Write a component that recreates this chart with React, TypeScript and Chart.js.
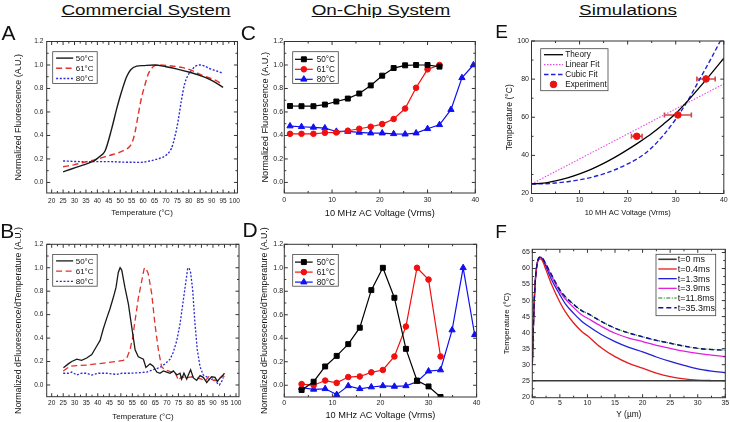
import React, { useEffect, useRef } from 'react';
import { Chart, registerables } from 'chart.js';

Chart.register(...registerables);

const FONT = '"Liberation Sans", Arial, Helvetica, sans-serif';

type Pt = [number, number];

// ---------------- tick values ----------------
const TEMP_TICKS_AB = [20, 25, 30, 35, 40, 45, 50, 55, 60, 65, 70, 75, 80, 85, 90, 95, 100];
const NORM_TICKS = [0, 0.2, 0.4, 0.6, 0.8, 1.0, 1.2];
const VOLT_TICKS = [0, 10, 20, 30, 40];
const E_TEMP_TICKS = [20, 40, 60, 80, 100];
const F_Y_TICKS = [0, 5, 10, 15, 20, 25, 30, 35];
const F_TEMP_TICKS = [20, 25, 30, 35, 40, 45, 50, 55, 60, 65];

// ---------------- labels ----------------
const MELT_LABELS = ['50°C', '61°C', '80°C'];
const E_LABELS = ['Theory', 'Linear Fit', 'Cubic Fit', 'Experiment'];
const F_LABELS = ['t=0 ms', 't=0.4ms', 't=1.3ms', 't=3.9ms', 't=11.8ms', 't=35.3ms'];

// ---------------- Panel A: melt curves (commercial) ----------------
const A_50C: Pt[] = [[25, 0.09], [28, 0.11], [31, 0.13], [34, 0.15], [37, 0.17], [39, 0.19], [41, 0.22], [43.4, 0.27], [46.3, 0.46], [48.5, 0.63], [50.7, 0.78], [52.8, 0.9], [54.6, 0.96], [57.2, 0.99], [60, 0.995], [65, 1.0], [70, 0.985], [75, 0.965], [80, 0.94], [85, 0.91], [90, 0.87], [95, 0.81]];
const A_61C: Pt[] = [[25, 0.134], [29.7, 0.15], [33.9, 0.17], [38.4, 0.19], [42.7, 0.215], [47.1, 0.24], [51.4, 0.27], [54.3, 0.31], [55.4, 0.35], [56.5, 0.43], [57.9, 0.58], [59.3, 0.72], [60.8, 0.83], [62.2, 0.92], [63.7, 0.97], [65.1, 0.994], [67.3, 1.0], [71.6, 0.994], [77.4, 0.977], [81.8, 0.95], [86.1, 0.91], [90.5, 0.88], [95, 0.834]];
const A_80C: Pt[] = [[25, 0.183], [31, 0.178], [38, 0.177], [45, 0.177], [52.8, 0.172], [58.6, 0.171], [63, 0.183], [67.3, 0.206], [70.2, 0.234], [72.4, 0.29], [73.8, 0.38], [75.3, 0.52], [76.7, 0.69], [78.2, 0.84], [79.6, 0.91], [81, 0.95], [83, 0.99], [85, 1.0], [87, 0.99], [89, 0.97], [92, 0.95], [95, 0.93]];

// ---------------- Panel B: derivative (commercial) ----------------
const B_50C: Pt[] = [[25.1, 0.147], [27.2, 0.18], [28.7, 0.2], [30.9, 0.22], [33, 0.21], [35.2, 0.23], [37.4, 0.26], [39.5, 0.33], [41, 0.38], [42.4, 0.48], [43.9, 0.57], [45.3, 0.65], [46.8, 0.75], [47.9, 0.83], [48.9, 0.96], [49.7, 1.0], [50.4, 0.98], [51.8, 0.83], [53.3, 0.69], [54.7, 0.5], [56.2, 0.3], [57.6, 0.24], [59.8, 0.22], [60.9, 0.15], [62.7, 0.18], [64.1, 0.16], [65.6, 0.11], [67, 0.1], [68.5, 0.12], [69.9, 0.11], [71.4, 0.1], [72.8, 0.12], [74.3, 0.085], [75.7, 0.1], [76.4, 0.05], [77.4, 0.1], [78.6, 0.05], [79.3, 0.085], [80.3, 0.13], [81.5, 0.06], [82.9, 0.04], [84.4, 0.08], [85.8, 0.065], [87.3, 0.02], [88, 0.04], [89.4, 0.07], [90.9, 0.065], [91.9, 0.03], [93.1, 0.06], [94.2, 0.08], [95, 0.1]];
const B_61C: Pt[] = [[25, 0.12], [27.9, 0.16], [30.9, 0.165], [35.2, 0.17], [39.5, 0.18], [43.9, 0.19], [48.2, 0.2], [51.1, 0.21], [52.6, 0.23], [54, 0.3], [55.2, 0.41], [56.2, 0.55], [57.6, 0.74], [59.1, 0.89], [60.1, 0.99], [60.8, 1.0], [61.9, 0.95], [63.4, 0.78], [64.8, 0.52], [66.3, 0.3], [67.7, 0.155], [69.2, 0.13], [70.6, 0.12], [72.1, 0.11], [73.5, 0.11], [75, 0.04], [76.4, 0.07], [78.6, 0.06], [80.8, 0.07], [82.9, 0.06], [85.1, 0.05], [86.5, 0.03], [88, 0.07], [90.2, 0.04], [92.3, 0.04], [94.2, 0.08], [95, 0.07]];
const B_80C: Pt[] = [[25, 0.1], [27.2, 0.1], [28.7, 0.11], [30.9, 0.085], [33, 0.1], [35.2, 0.1], [37.4, 0.085], [40.3, 0.1], [43.9, 0.1], [48.2, 0.09], [50.4, 0.1], [54, 0.1], [58.3, 0.105], [61.2, 0.11], [64.1, 0.13], [67, 0.15], [69.2, 0.18], [71.4, 0.22], [72.8, 0.28], [74.3, 0.38], [75.7, 0.52], [77.1, 0.72], [78.3, 0.89], [79, 0.99], [79.6, 1.0], [80.3, 0.96], [81.2, 0.81], [82.2, 0.52], [83.2, 0.3], [84.4, 0.155], [85.8, 0.085], [87.3, 0.07], [88.7, 0.04], [90.2, 0.055], [91.6, 0.02], [92.8, 0.0], [93.8, 0.03], [94.5, 0.065]];

// ---------------- Panel C: on-chip melt ----------------
const C_VOLTS = [1.2, 3.6, 6.1, 8.5, 10.9, 13.3, 15.7, 18.1, 20.5, 22.9, 25.3, 27.6, 30.0, 32.5, 34.9, 37.2, 39.6];
const C_50C = [0.651, 0.649, 0.649, 0.663, 0.689, 0.714, 0.757, 0.826, 0.909, 0.974, 0.997, 1.0, 1.0, 0.986];
const C_61C = [0.414, 0.414, 0.414, 0.423, 0.426, 0.44, 0.457, 0.474, 0.497, 0.54, 0.629, 0.806, 0.963, 1.0];
const C_80C = [0.48, 0.474, 0.469, 0.463, 0.434, 0.434, 0.426, 0.42, 0.42, 0.414, 0.411, 0.42, 0.457, 0.491, 0.62, 0.891, 1.0];

// ---------------- Panel D: on-chip derivative ----------------
const D_VOLTS = [3.6, 6.1, 8.5, 10.9, 13.3, 15.7, 18.1, 20.5, 22.9, 25.3, 27.6, 30.0, 32.5, 34.9, 37.2, 39.6];
const D_50C = [-0.04, 0.03, 0.16, 0.25, 0.35, 0.49, 0.81, 1.0, 0.745, 0.31, 0.04, -0.01, -0.1];
const D_61C = [0.01, 0.0, 0.04, 0.02, 0.07, 0.075, 0.11, 0.13, 0.245, 0.5, 1.0, 0.9, 0.245];
const D_80C = [-0.02, -0.035, -0.03, -0.08, -0.005, -0.03, -0.015, -0.005, -0.01, -0.005, 0.03, 0.12, 0.13, 0.47, 1.0, 0.43];

// ---------------- Panel E: temperature vs voltage ----------------
const E_THEORY: Pt[] = [[0, 25], [2.5, 25.4], [5, 26.6], [7.5, 28.2], [10, 30.3], [12.5, 32.8], [15, 35.8], [17.5, 39.2], [20, 43], [22.5, 47.1], [25, 51.5], [27.5, 56.5], [30, 62], [32.5, 68.6], [35, 75.8], [37.5, 83.3], [40, 91]];
const E_LINEAR: Pt[] = [[0, 25], [40, 77.5]];
const E_CUBIC: Pt[] = [[0, 25], [2.5, 25.1], [5, 25.5], [7.5, 26.2], [10, 27.2], [12.5, 28.5], [15, 30.3], [17.5, 32.6], [20, 35.5], [22.5, 39], [25, 44], [27.5, 50.8], [30, 59], [32.5, 68.7], [35, 80], [37.5, 91.5], [40, 103.5]];
const E_EXPERIMENT: Pt[] = [[21.9, 50], [30.45, 61.2], [36.3, 80.1]];
const E_EXPERIMENT_XERR = [1.1, 2.8, 1.9];

// ---------------- Panel F: temperature profiles ----------------
const F_T0: Pt[] = [[0, 25], [35, 25]];
const F_T04: Pt[] = [[0, 30], [0.25, 45], [0.5, 55], [0.75, 60], [1, 62.3], [1.4, 63], [1.8, 62.5], [2.5, 59.5], [3.5, 55], [5, 49.5], [6, 46.5], [7.5, 43], [9, 40.3], [10, 39], [12.5, 35.3], [15, 32.5], [17.5, 30.4], [20, 28.9], [22.5, 27.4], [25, 26.3], [27.5, 25.6], [30, 25.2], [32.5, 25.05], [35, 25]];
const F_T13: Pt[] = [[0, 30], [0.25, 45], [0.5, 55], [0.75, 60], [1, 62.5], [1.4, 63.5], [1.8, 63], [2.5, 60.5], [3.5, 56.5], [5, 51.8], [6, 49], [7.5, 46], [9, 43.5], [10, 42.2], [12.5, 39.4], [15, 37.2], [17.5, 35.4], [20, 34], [22.5, 32.4], [25, 31], [27.5, 29.8], [30, 28.7], [32.5, 28], [35, 27.5]];
const F_T39: Pt[] = [[0, 30], [0.25, 45], [0.5, 55], [0.75, 60], [1, 62.5], [1.4, 63.5], [1.8, 63.2], [2.5, 61], [3.5, 57.5], [5, 52.8], [6, 50.5], [7.5, 47.8], [9, 45.5], [10, 44.5], [12.5, 42], [15, 39.8], [17.5, 38.3], [20, 37.2], [22.5, 36], [25, 35.1], [27.5, 34.2], [30, 33.5], [32.5, 33], [35, 32.5]];
const F_T118: Pt[] = [[0, 30], [0.25, 45], [0.5, 55], [0.75, 60], [1, 62.5], [1.4, 63.6], [1.8, 63.3], [2.5, 61.3], [3.5, 58], [5, 53.3], [6, 51.2], [7.5, 48.8], [9, 46.8], [10, 46], [12.5, 43.5], [15, 41.4], [17.5, 39.9], [20, 38.7], [22.5, 37.6], [25, 36.7], [27.5, 35.8], [30, 35.1], [32.5, 34.8], [35, 34.6]];
const F_T353: Pt[] = [[0, 30], [0.25, 45], [0.5, 55], [0.75, 60], [1, 62.5], [1.4, 63.6], [1.8, 63.3], [2.5, 61.3], [3.5, 58], [5, 53.3], [6, 51.2], [7.5, 48.8], [9, 46.8], [10, 46], [12.5, 43.5], [15, 41.4], [17.5, 39.9], [20, 38.7], [22.5, 37.6], [25, 36.7], [27.5, 35.8], [30, 35.1], [32.5, 34.7], [35, 34.5]];

// ---------------- helpers ----------------
const xy = (pts: Pt[]) => pts.map(([x, y]) => ({ x, y }));
const zip = (xs: number[], ys: number[]) => ys.map((y, i) => ({ x: xs[i], y }));
const mids = (t: number[]) => t.slice(1).map((v, i) => (v + t[i]) / 2);

const lineDs = (label: string, data: any[], color: string, width: number, dash: number[] = [], smooth = false) => ({
  label, data, borderColor: color, backgroundColor: color, borderWidth: width, borderDash: dash,
  pointRadius: 0, pointHoverRadius: 0, fill: false, tension: 0,
  cubicInterpolationMode: smooth ? 'monotone' : 'default',
});
const markDs = (label: string, data: any[], color: string, style: string, r: number) => ({
  label, data, borderColor: color, backgroundColor: color, borderWidth: 1.2,
  pointStyle: style, pointRadius: r, pointHoverRadius: r, pointBackgroundColor: color, pointBorderColor: color, pointBorderWidth: 1,
  fill: false, tension: 0,
});

function drawMarker(ctx: CanvasRenderingContext2D, style: string, x: number, y: number, r: number, color: string) {
  ctx.save();
  ctx.setLineDash([]);
  ctx.fillStyle = color; ctx.strokeStyle = color; ctx.lineWidth = 1;
  ctx.beginPath();
  if (style === 'rect') {
    const s = r * Math.SQRT1_2;
    ctx.rect(x - s, y - s, 2 * s, 2 * s);
  } else if (style === 'triangle') {
    for (let k = 0; k < 3; k++) {
      const a = (k * 2 * Math.PI) / 3;
      const px = x + Math.sin(a) * r, py = y - Math.cos(a) * r;
      if (k === 0) ctx.moveTo(px, py); else ctx.lineTo(px, py);
    }
    ctx.closePath();
  } else {
    ctx.arc(x, y, r, 0, Math.PI * 2);
  }
  ctx.fill(); ctx.stroke();
  ctx.restore();
}

interface Axis { min: number; max: number; ticks: number[]; dec: number; title: string; tSize: number; tPad: number; lSize: number; lPad: number; }
interface Legend { x: number; y: number; w: number; h: number; row0: number; step: number; s0: number; s1: number; tx: number; size: number; labels: string[]; }
interface Panel {
  box: [number, number, number, number];
  padTop: number; padRight: number; yW: number; xH: number;
  x: Axis; y: Axis; datasets: any[]; legend: Legend;
  errors?: { ds: number; err: number[]; color: string };
}

function decor(p: Panel) {
  return {
    id: 'decor',
    beforeDatasetsDraw(chart: any) {
      if (!p.errors) return;
      const { ctx } = chart;
      const xs = chart.scales.x, ys = chart.scales.y;
      const data = chart.data.datasets[p.errors.ds].data;
      ctx.save();
      ctx.strokeStyle = p.errors.color; ctx.lineWidth = 1.6; ctx.setLineDash([]);
      data.forEach((pt: any, i: number) => {
        const e = p.errors!.err[i];
        const x0 = xs.getPixelForValue(pt.x - e), x1 = xs.getPixelForValue(pt.x + e);
        const y = ys.getPixelForValue(pt.y);
        ctx.beginPath();
        ctx.moveTo(x0, y); ctx.lineTo(x1, y);
        ctx.moveTo(x0, y - 2.5); ctx.lineTo(x0, y + 2.5);
        ctx.moveTo(x1, y - 2.5); ctx.lineTo(x1, y + 2.5);
        ctx.stroke();
      });
      ctx.restore();
    },
    afterDatasetsDraw(chart: any) {
      const { ctx, chartArea: a } = chart;
      const xs = chart.scales.x, ys = chart.scales.y;
      ctx.save();
      ctx.setLineDash([]);
      ctx.strokeStyle = '#333'; ctx.lineWidth = 1;
      ctx.strokeRect(a.left, a.top, a.right - a.left, a.bottom - a.top);
      const inX = (v: number) => v >= p.x.min - 1e-9 && v <= p.x.max + 1e-9;
      const inY = (v: number) => v >= p.y.min - 1e-9 && v <= p.y.max + 1e-9;
      const xt = (vals: number[], len: number) => vals.filter(inX).forEach((v) => {
        const px = xs.getPixelForValue(v);
        ctx.beginPath();
        ctx.moveTo(px, a.bottom); ctx.lineTo(px, a.bottom - len);
        ctx.moveTo(px, a.top); ctx.lineTo(px, a.top + len);
        ctx.stroke();
      });
      const yt = (vals: number[], len: number) => vals.filter(inY).forEach((v) => {
        const py = ys.getPixelForValue(v);
        ctx.beginPath();
        ctx.moveTo(a.left, py); ctx.lineTo(a.left + len, py);
        ctx.moveTo(a.right, py); ctx.lineTo(a.right - len, py);
        ctx.stroke();
      });
      xt(p.x.ticks, 3.5); xt(mids(p.x.ticks), 2);
      yt(p.y.ticks, 3.5); yt(mids(p.y.ticks), 2);

      // legend
      const L = p.legend;
      const bx = a.left + L.x, by = a.top + L.y;
      ctx.fillStyle = '#fff';
      ctx.fillRect(bx, by, L.w, L.h);
      ctx.strokeStyle = '#444'; ctx.lineWidth = 0.8;
      ctx.strokeRect(bx, by, L.w, L.h);
      chart.data.datasets.forEach((ds: any, i: number) => {
        const y = by + L.row0 + i * L.step;
        if (ds.showLine !== false) {
          ctx.save();
          ctx.setLineDash(ds.borderDash || []);
          ctx.strokeStyle = ds.borderColor; ctx.lineWidth = ds.borderWidth;
          ctx.beginPath(); ctx.moveTo(bx + L.s0, y); ctx.lineTo(bx + L.s1, y); ctx.stroke();
          ctx.restore();
        }
        if (ds.pointRadius > 0) drawMarker(ctx, ds.pointStyle || 'circle', bx + (L.s0 + L.s1) / 2, y, ds.pointRadius, ds.pointBackgroundColor || ds.borderColor);
        ctx.fillStyle = '#111';
        ctx.font = `${L.size}px ${FONT}`;
        ctx.textBaseline = 'middle'; ctx.textAlign = 'left';
        ctx.fillText(L.labels[i], bx + L.tx, y + 0.5);
      });
      ctx.restore();
    },
  };
}

function makeConfig(p: Panel) {
  const axis = (ax: Axis, horizontal: boolean) => ({
    type: 'linear',
    min: ax.min, max: ax.max,
    afterBuildTicks: (s: any) => { s.ticks = ax.ticks.map((v) => ({ value: v })); },
    afterFit: (s: any) => { if (horizontal) s.height = p.xH; else s.width = p.yW; },
    grid: { display: false, drawTicks: false },
    border: { display: false },
    ticks: {
      autoSkip: false, maxRotation: 0, minRotation: 0, padding: ax.lPad, color: '#222',
      font: { family: FONT, size: ax.lSize },
      callback: (v: any) => Number(v).toFixed(ax.dec),
    },
    title: {
      display: true, text: ax.title, color: '#111', font: { family: FONT, size: ax.tSize },
      padding: horizontal ? { top: 0, bottom: ax.tPad } : { top: ax.tPad, bottom: 0 },
    },
  });
  return {
    type: 'line',
    data: { datasets: p.datasets },
    options: {
      animation: false, responsive: false, maintainAspectRatio: false, events: [],
      layout: { padding: { left: 0, top: p.padTop, right: p.padRight, bottom: 0 } },
      plugins: { legend: { display: false }, tooltip: { enabled: false }, title: { display: false } },
      scales: { x: axis(p.x, true), y: axis(p.y, false) },
    },
    plugins: [decor(p)],
  };
}

const AB_RED = '#e3322b';
const AB_BLUE = '#2b2bd6';

function buildPanels(): Panel[] {
  const legAB = (labels: string[]) => ({ x: 6, y: 10.2, w: 44.5, h: 31.7, row0: 6.4, step: 10.2, s0: 3.4, s1: 20.5, tx: 23, size: 8, labels });
  const legCD = (labels: string[]) => ({ x: 8.4, y: 10.2, w: 45.6, h: 31.7, row0: 7.6, step: 10, s0: 2.3, s1: 20, tx: 24, size: 8.2, labels });
  const tempAxisAB = (title: string, tPad: number, lPad: number): Axis => ({ min: 17.83, max: 101.3, ticks: TEMP_TICKS_AB, dec: 0, title, tSize: 8, tPad, lSize: 6.5, lPad });
  return [
    // A
    {
      box: [0, 30, 244, 190], padTop: 11.5, padRight: 5, yW: 46.7, xH: 27,
      x: tempAxisAB('Temperature (°C)', 2.7, 4),
      y: { min: -0.09, max: 1.2, ticks: NORM_TICKS, dec: 1, title: 'Normalized Fluorescence (A.U.)', tSize: 8.9, tPad: 13, lSize: 6.5, lPad: 3.4 },
      datasets: [
        lineDs(MELT_LABELS[0], xy(A_50C), '#1a1a1a', 1.4, [], true),
        lineDs(MELT_LABELS[1], xy(A_61C), AB_RED, 1.4, [6, 3.5], true),
        lineDs(MELT_LABELS[2], xy(A_80C), AB_BLUE, 1.4, [2, 1.7], true),
      ],
      legend: legAB(MELT_LABELS),
    },
    // B
    {
      box: [0, 222, 244, 200], padTop: 22.3, padRight: 5, yW: 46.7, xH: 25.3,
      x: tempAxisAB('Temperature (°C)', 0.5, 2.2),
      y: { min: -0.1, max: 1.2, ticks: NORM_TICKS, dec: 1, title: 'Normalized dFluorescence/dTemperature (A.U.)', tSize: 8.8, tPad: 13, lSize: 6.5, lPad: 3.4 },
      datasets: [
        lineDs(MELT_LABELS[0], xy(B_50C), '#1a1a1a', 1.3),
        lineDs(MELT_LABELS[1], xy(B_61C), AB_RED, 1.3, [6, 3.5]),
        lineDs(MELT_LABELS[2], xy(B_80C), AB_BLUE, 1.3, [2, 1.7]),
      ],
      legend: legAB(MELT_LABELS),
    },
    // C
    {
      box: [244, 30, 238, 190], padTop: 11.5, padRight: 4.7, yW: 40.3, xH: 27,
      x: { min: 0, max: 40, ticks: VOLT_TICKS, dec: 0, title: '10 MHz AC Voltage (Vrms)', tSize: 9.2, tPad: 1.1, lSize: 7, lPad: 2.8 },
      y: { min: -0.09, max: 1.2, ticks: NORM_TICKS, dec: 1, title: 'Normalized Fluorescence (A.U.)', tSize: 9.2, tPad: 15.5, lSize: 7, lPad: 1.2 },
      datasets: [
        markDs(MELT_LABELS[0], zip(C_VOLTS, C_50C), '#000000', 'rect', 3.5),
        markDs(MELT_LABELS[1], zip(C_VOLTS, C_61C), '#f01010', 'circle', 2.8),
        markDs(MELT_LABELS[2], zip(C_VOLTS, C_80C), '#1010f0', 'triangle', 3.6),
      ],
      legend: legCD(MELT_LABELS),
    },
    // D
    {
      box: [244, 222, 238, 200], padTop: 22.3, padRight: 4.7, yW: 40.3, xH: 25,
      x: { min: 0, max: 40, ticks: VOLT_TICKS, dec: 0, title: '10 MHz AC Voltage (Vrms)', tSize: 9.2, tPad: 1.4, lSize: 7, lPad: 1.5 },
      y: { min: -0.1, max: 1.2, ticks: NORM_TICKS, dec: 1, title: 'Normalized dFluorescence/dTemperature (A.U.)', tSize: 8.8, tPad: 15.7, lSize: 7, lPad: 1.2 },
      datasets: [
        markDs(MELT_LABELS[0], zip(D_VOLTS, D_50C), '#000000', 'rect', 3.5),
        markDs(MELT_LABELS[1], zip(D_VOLTS, D_61C), '#f01010', 'circle', 2.8),
        markDs(MELT_LABELS[2], zip(D_VOLTS, D_80C), '#1010f0', 'triangle', 3.6),
      ],
      legend: legCD(MELT_LABELS),
    },
    // E
    {
      box: [482, 30, 248, 190], padTop: 11, padRight: 4.7, yW: 49.5, xH: 26.5,
      x: { min: 0, max: 40, ticks: VOLT_TICKS, dec: 0, title: '10 MH AC Voltage (Vrms)', tSize: 7.5, tPad: 2.2, lSize: 7, lPad: 2.3 },
      y: { min: 20, max: 100, ticks: E_TEMP_TICKS, dec: 0, title: 'Temperature (°C)', tSize: 8.6, tPad: 22.1, lSize: 7, lPad: 2.5 },
      datasets: [
        lineDs(E_LABELS[0], xy(E_THEORY), '#000000', 1.3, [], true),
        lineDs(E_LABELS[1], xy(E_LINEAR), '#e44ce4', 1.1, [1.5, 1.5]),
        lineDs(E_LABELS[2], xy(E_CUBIC), '#2222d2', 1.4, [4.5, 2.5], true),
        { ...markDs(E_LABELS[3], xy(E_EXPERIMENT), '#e81414', 'circle', 3.3), showLine: false, order: -1 },
      ],
      legend: { x: 9.2, y: 7.7, w: 67.3, h: 42, row0: 6, step: 9.9, s0: 3.3, s1: 22.3, tx: 24.6, size: 8.2, labels: E_LABELS },
      errors: { ds: 3, err: E_EXPERIMENT_XERR, color: '#d54848' },
    },
    // F
    {
      box: [482, 222, 248, 200], padTop: 27.3, padRight: 4, yW: 50.3, xH: 24.3,
      x: { min: 0, max: 35, ticks: F_Y_TICKS, dec: 0, title: 'Y (µm)', tSize: 8.3, tPad: 2, lSize: 7, lPad: 0.8 },
      y: { min: 19.7, max: 66, ticks: F_TEMP_TICKS, dec: 0, title: 'Temperature (°C)', tSize: 8, tPad: 19.9, lSize: 7, lPad: 2.4 },
      datasets: [
        lineDs(F_LABELS[0], xy(F_T0), '#3a3a3a', 1.6),
        lineDs(F_LABELS[1], xy(F_T04), '#e31b1b', 1.3, [], true),
        lineDs(F_LABELS[2], xy(F_T13), '#2020d8', 1.3, [], true),
        lineDs(F_LABELS[3], xy(F_T39), '#e020e0', 1.3, [], true),
        lineDs(F_LABELS[4], xy(F_T118), '#168016', 1.2, [4, 1.5, 1, 1.5], true),
        { ...lineDs(F_LABELS[5], xy(F_T353), '#10108a', 1.4, [5, 3], true), order: -1 },
      ],
      legend: { x: 123.7, y: 5, w: 59.7, h: 61.4, row0: 5, step: 9.68, s0: 2.3, s1: 20.7, tx: 21.7, size: 9, labels: F_LABELS },
    },
  ];
}

const TITLES = [
  { text: 'Commercial System', cx: 145.5 },
  { text: 'On-Chip System', cx: 380.5 },
  { text: 'Simulations', cx: 628 },
];
const LETTERS = [
  { t: 'A', x: 1.5, base: 40, size: 21 },
  { t: 'B', x: 0.3, base: 238, size: 21 },
  { t: 'C', x: 240.7, base: 40, size: 21 },
  { t: 'D', x: 242.4, base: 236.7, size: 21 },
  { t: 'E', x: 495.3, base: 38.3, size: 19 },
  { t: 'F', x: 495.3, base: 238.3, size: 19 },
];
const CANVAS_BOXES: [number, number, number, number][] = [
  [0, 30, 244, 190], [0, 222, 244, 200], [244, 30, 238, 190], [244, 222, 238, 200], [482, 30, 248, 190], [482, 222, 248, 200],
];

export default function App() {
  const refs = useRef<(HTMLCanvasElement | null)[]>([]);
  useEffect(() => {
    const panels = buildPanels();
    const charts = panels.map((p, i) => new Chart(refs.current[i] as HTMLCanvasElement, makeConfig(p) as any));
    return () => charts.forEach((c) => c.destroy());
  }, []);
  return (
    <div style={{ position: 'absolute', left: 0, top: 0, width: 730, height: 422, background: '#fff', overflow: 'hidden', fontFamily: FONT, color: '#111' }}>
      {CANVAS_BOXES.map((b, i) => (
        <canvas
          key={i}
          ref={(el) => { refs.current[i] = el; }}
          width={b[2]}
          height={b[3]}
          style={{ position: 'absolute', left: b[0], top: b[1], width: b[2], height: b[3] }}
        />
      ))}
      {TITLES.map((t) => (
        <div key={t.text} style={{ position: 'absolute', left: t.cx, top: 0.5, fontSize: 15.5, lineHeight: '18px', whiteSpace: 'nowrap', textDecoration: 'underline', transform: 'translateX(-50%) scaleX(1.22)' }}>
          {t.text}
        </div>
      ))}
      {LETTERS.map((l) => (
        <div key={l.t} style={{ position: 'absolute', left: l.x, top: l.base - 0.8465 * l.size, fontSize: l.size, lineHeight: `${l.size}px` }}>
          {l.t}
        </div>
      ))}
    </div>
  );
}
